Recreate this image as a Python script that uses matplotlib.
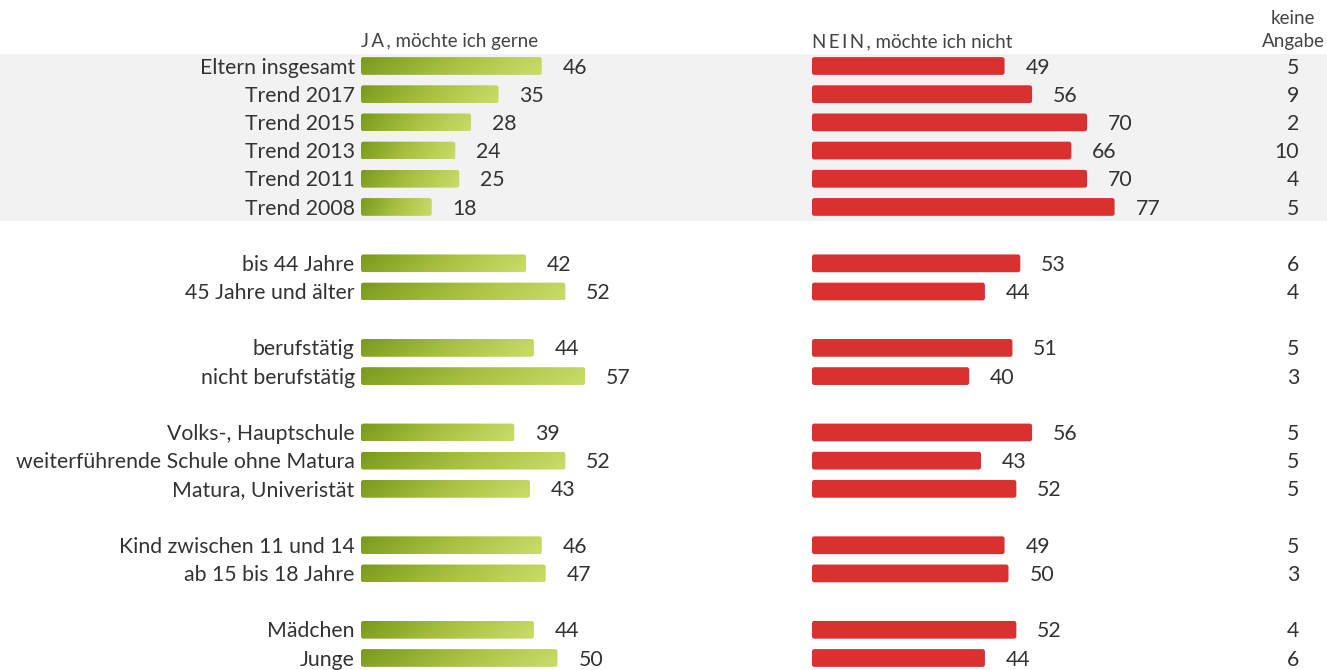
import numpy as np
import matplotlib
matplotlib.use("Agg")
import matplotlib.pyplot as plt
from matplotlib.patches import FancyBboxPatch
from matplotlib.colors import LinearSegmentedColormap

plt.rcParams['font.family'] = ['Lato', 'DejaVu Sans']

# ---- data -------------------------------------------------------------
labels = ["Eltern insgesamt", "Trend 2017", "Trend 2015", "Trend 2013",
          "Trend 2011", "Trend 2008",
          "bis 44 Jahre", "45 Jahre und älter",
          "berufstätig", "nicht berufstätig",
          "Volks-, Hauptschule", "weiterführende Schule ohne Matura",
          "Matura, Univeristät",
          "Kind zwischen 11 und 14", "ab 15 bis 18 Jahre",
          "Mädchen", "Junge"]
ja = [46, 35, 28, 24, 25, 18, 42, 52, 44, 57, 39, 52, 43, 46, 47, 44, 50]
nein = [49, 56, 70, 66, 70, 77, 53, 44, 51, 40, 56, 43, 52, 49, 50, 52, 44]
keine = [5, 9, 2, 10, 4, 5, 6, 4, 5, 3, 5, 5, 5, 5, 3, 4, 6]
# row slots (empty slot between groups)
rows = [0, 1, 2, 3, 4, 5, 7, 8, 10, 11, 13, 14, 15, 17, 18, 20, 21]

# ---- layout -----------------------------------------------------------
W, H = 1327, 670
fig = plt.figure(figsize=(W / 100, H / 100), dpi=100)

y0, dy = 66, 28.19
ytop = -y0 / dy
ybot = (H - y0) / dy
bar_h = 0.63
tdy = 1.6 / dy   # nudge text down a little

txt = '#333333'
fs = 15.3

bg = fig.add_axes([0, 0, 1, 1])
bg.set_xlim(0, W)
bg.set_ylim(ybot, ytop)
bg.axis('off')
bg.axhspan(-0.43, 5.5, color='#f2f2f2', lw=0)

green = LinearSegmentedColormap.from_list('g', ['#7a9a1c', '#a8c040', '#c8dc68'])
red = '#d93030'

scale_px = 3.93
ax_ja = fig.add_axes([361 / W, 0, 100 * scale_px / W, 1])
ax_nein = fig.add_axes([812 / W, 0, 100 * scale_px / W, 1])
for ax in (ax_ja, ax_nein):
    ax.set_xlim(0, 100)
    ax.set_ylim(ybot, ytop)
    ax.axis('off')
    ax.patch.set_alpha(0)

asp = (2 / dy) / (2 / scale_px)
grad = np.linspace(0, 1, 256)[None, :] + np.linspace(0, 0.12, 8)[:, None]

for r, v, lab in zip(rows, ja, labels):
    p = FancyBboxPatch((0, r - bar_h / 2), v, bar_h,
                       boxstyle="round,pad=0,rounding_size=0.6",
                       mutation_aspect=asp, fc='none', ec='none')
    ax_ja.add_patch(p)
    im = ax_ja.imshow(grad, extent=[0, v, r + bar_h / 2, r - bar_h / 2],
                      aspect='auto', cmap=green, vmin=0, vmax=1.1,
                      interpolation='bilinear')
    im.set_clip_path(p)
    ax_ja.annotate(str(v), (v, r + tdy), xytext=(15, 0), textcoords='offset points',
                   ha='left', va='center', fontsize=fs, color=txt)
    ax_ja.annotate(lab, (0, r + tdy), xytext=(-4.5, 0), textcoords='offset points',
                   ha='right', va='center', fontsize=fs, color=txt)

for r, v, k in zip(rows, nein, keine):
    p = FancyBboxPatch((0, r - bar_h / 2), v, bar_h,
                       boxstyle="round,pad=0,rounding_size=0.6",
                       mutation_aspect=asp, fc=red, ec='none')
    ax_nein.add_patch(p)
    ax_nein.annotate(str(v), (v, r + tdy), xytext=(15, 0), textcoords='offset points',
                     ha='left', va='center', fontsize=fs, color=txt)
    bg.text(1299, r + tdy, str(k), ha='right', va='center', fontsize=fs, color=txt)

for ax in (ax_ja, ax_nein):
    ax.set_xlim(0, 100)
    ax.set_ylim(ybot, ytop)

hdr = '#444444'
hfs = 13.5
hy = -0.92 + tdy
ax_ja.text(0, hy, "J\u2009A\u2009, möchte ich gerne", ha='left', va='center',
           fontsize=hfs, color=hdr)
ax_nein.text(0, hy, "N\u2009E\u2009I\u2009N\u2009, möchte ich nicht", ha='left',
             va='center', fontsize=hfs, color=hdr)
bg.text(1293, hy, "Angabe", ha='center', va='center', fontsize=hfs, color=hdr)
bg.text(1293, hy - 23 / dy, "keine", ha='center', va='center',
        fontsize=hfs, color=hdr)

fig.savefig('out.png', dpi=100)
